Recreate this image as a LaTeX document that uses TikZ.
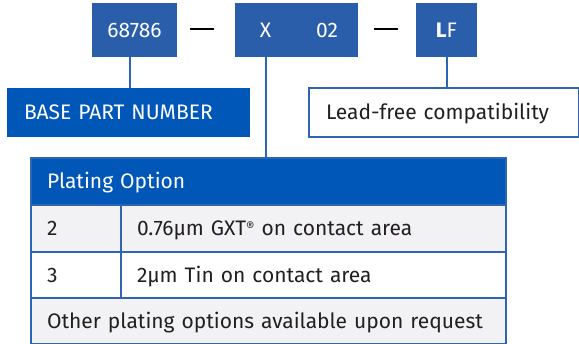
\documentclass[tikz,border=0pt]{standalone}
\usepackage{fontspec}
\setmainfont{Fira Sans}
\usetikzlibrary{calc}
\definecolor{partblue}{HTML}{2A5DAA}
\definecolor{headblue}{HTML}{0057B8}
\definecolor{ruleblue}{HTML}{2F64B2}
\definecolor{rowgray}{HTML}{F2F2F4}
\definecolor{inkgray}{HTML}{231F20}
\newcommand{\regmark}{\raisebox{4.5pt}{\fontsize{13}{13}\selectfont ®}}
\tikzset{txt/.style={font=\fontsize{21}{25}\selectfont, text height=14.5pt, text depth=0pt},
         partbox/.style={txt, fill=partblue, text=white, minimum height=54pt, inner sep=0pt, outer sep=0pt},
         labelbox/.style={txt, minimum height=49pt, inner xsep=17pt, inner ysep=0pt, outer sep=0pt, align=left},
         cell/.style={txt, draw=ruleblue, line width=1.6pt, anchor=north west, inner xsep=16pt, inner ysep=0pt,
                      outer sep=0pt, align=left, text=inkgray, minimum height=#1},
         cell/.default={46pt},
         link/.style={draw=ruleblue, line width=2pt},
         dashline/.style={draw=black, line width=2.5pt}}

\begin{document}
\begin{tikzpicture}[x=1pt,y=-1pt]
  \useasboundingbox (0,0) rectangle (579,344);

  \node[partbox, minimum width=85pt] (p68786) at (134.5,30) {68786};
  \node[partbox, minimum width=61pt] (pX) at (265.5,30) {X};
  \node[partbox, minimum width=62pt] (p02) at (327,30) {02};
  \node[partbox, minimum width=61pt] (pLF) at (446.5,30) {{\bfseries L}F};

  \draw[dashline] ($(p68786.east)+(13,-1)$) -- ($(pX.west)+(-21,-1)$);
  \draw[dashline] ($(p02.east)+(16,-1)$) -- ($(pLF.west)+(-18,-1)$);

  \node[labelbox, fill=headblue, text=white, text width=209pt, anchor=north west] (base) at (7,88) {BASE PART NUMBER};
  \node[labelbox, draw=ruleblue, line width=2pt, fill=white, text=inkgray, text width=236pt, anchor=north west] (lead) at (309,88) {Lead-free compatibility};

  \node[cell=47pt, fill=headblue, text=white, text width=443pt] (head) at (31,158) {Plating Option};
  \node[cell=47pt, fill=rowgray, text width=58pt] (r1a) at (head.south west) {2};
  \node[cell=47pt, fill=rowgray, text width=353pt] (r1b) at (r1a.north east) {0.76µm GXT\regmark{} on contact area};
  \node[cell, fill=white, text width=58pt] (r2a) at (r1a.south west) {3};
  \node[cell, fill=white, text width=353pt] (r2b) at (r2a.north east) {2µm Tin on contact area};
  \node[cell, fill=rowgray, text width=443pt] (r3) at (r2a.south west) {Other plating options available upon request};

  \draw[link] ([xshift=-4.5pt]p68786.south) -- ([xshift=-4.5pt]p68786.south |- base.north);
  \draw[link] (pX.south) -- (pX.south |- head.north);
  \draw[link] (pLF.south) -- (pLF.south |- lead.north);
\end{tikzpicture}
\end{document}
